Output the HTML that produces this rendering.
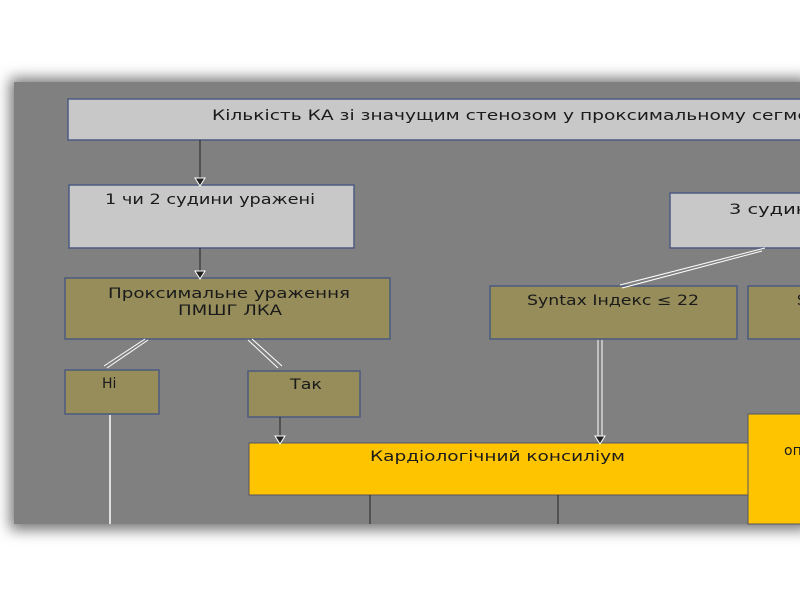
<!DOCTYPE html>
<html><head><meta charset="utf-8"><style>
html,body{margin:0;padding:0;background:#fff;width:800px;height:600px;overflow:hidden}
svg text{font-family:"DejaVu Sans","Liberation Sans",sans-serif;font-size:14px;fill:#1a1a1a}
</style></head><body>
<svg width="800" height="600" viewBox="0 0 800 600" xmlns="http://www.w3.org/2000/svg">
<defs>
<filter id="b" x="-5%" y="-5%" width="110%" height="110%"><feGaussianBlur stdDeviation="7"/></filter>
</defs>
<rect x="10" y="78" width="800" height="452" fill="#777" filter="url(#b)"/>
<rect x="14" y="82" width="790" height="442" fill="#808080"/>
<g stroke="#4a5a80" stroke-width="1.5">
<rect x="68" y="99" width="740" height="41" fill="#c8c8c8"/>
<rect x="69" y="185" width="285" height="63" fill="#c8c8c8"/>
<rect x="670" y="193" width="140" height="55" fill="#c8c8c8"/>
<rect x="65" y="278" width="325" height="61" fill="#968d5a"/>
<rect x="490" y="286" width="247" height="53" fill="#968d5a"/>
<rect x="748" y="286" width="60" height="53" fill="#968d5a"/>
<rect x="65" y="370" width="94" height="44" fill="#968d5a"/>
<rect x="248" y="371" width="112" height="46" fill="#968d5a"/>
</g>
<g stroke="#556" stroke-width="1">
<rect x="249" y="443" width="499" height="52" fill="#ffc400"/>
<rect x="748" y="414" width="60" height="110" fill="#ffc400"/>
</g>
<g stroke="#222" stroke-width="1">
<line x1="200" y1="140" x2="200" y2="180"/>
<line x1="200" y1="248" x2="200" y2="273"/>
<line x1="280" y1="417" x2="280" y2="438"/>
<line x1="370" y1="495" x2="370" y2="524"/>
<line x1="558" y1="495" x2="558" y2="524"/>
</g>
<g fill="#222" stroke="#fff" stroke-width="1">
<path d="M195 178 L205 178 L200 186Z"/>
<path d="M195 271 L205 271 L200 279Z"/>
<path d="M275 436 L285 436 L280 444Z"/>
<path d="M595 436 L605 436 L600 444Z"/>
</g>
<g stroke="#fff" stroke-width="1">
<line x1="148" y1="340" x2="107" y2="368"/>
<line x1="145" y1="339" x2="104" y2="366"/>
<line x1="248" y1="340" x2="278" y2="368"/>
<line x1="252" y1="339" x2="282" y2="366"/>
<line x1="765" y1="248" x2="620" y2="285"/>
<line x1="762" y1="251" x2="622" y2="288"/>
<line x1="598" y1="340" x2="598" y2="436"/>
<line x1="602" y1="340" x2="602" y2="436"/>
<line x1="110" y1="415" x2="110" y2="524" stroke-width="1.5"/>
</g>
<text x="212" y="120" textLength="625" lengthAdjust="spacingAndGlyphs">Кількість КА зі значущим стенозом у проксимальному сегменті</text>
<text x="105" y="204" textLength="210" lengthAdjust="spacingAndGlyphs">1 чи 2 судини уражені</text>
<text x="108" y="298" textLength="242" lengthAdjust="spacingAndGlyphs">Проксимальне ураження</text>
<text x="178" y="315" textLength="104" lengthAdjust="spacingAndGlyphs">ПМШГ ЛКА</text>
<text x="729" y="214" textLength="92" lengthAdjust="spacingAndGlyphs">3 судини</text>
<text x="527" y="305" textLength="172" lengthAdjust="spacingAndGlyphs">Syntax Індекс ≤ 22</text>
<text x="797" y="305">S</text>
<text x="102" y="388">Ні</text>
<text x="290" y="389" textLength="32" lengthAdjust="spacingAndGlyphs">Так</text>
<text x="370" y="461" textLength="255" lengthAdjust="spacingAndGlyphs">Кардіологічний консиліум</text>
<text x="784" y="455">оп</text>
</svg>
</body></html>
